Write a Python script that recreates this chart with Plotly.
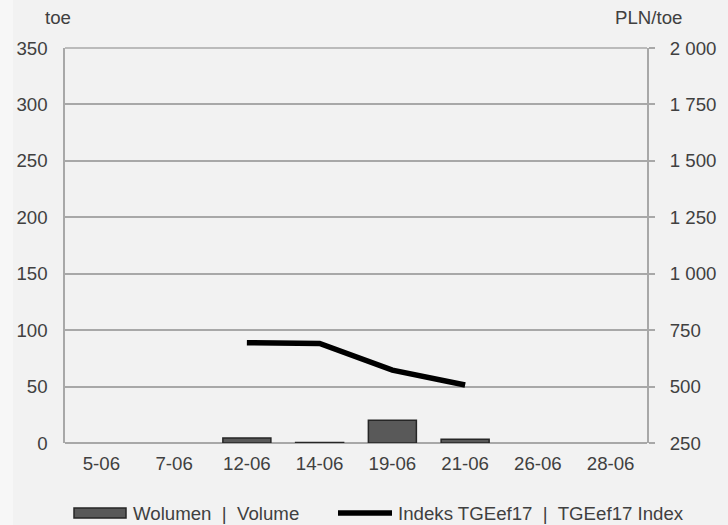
import plotly.graph_objects as go

categories = ["5-06", "7-06", "12-06", "14-06", "19-06", "21-06", "26-06", "28-06"]
volume = [None, None, 4.5, 0.4, 20.2, 3.4, None, None]
index_vals = [None, None, 694, 691, 573, 507, None, None]
left_ticks = [0, 50, 100, 150, 200, 250, 300, 350]
right_ticks = [250, 500, 750, 1000, 1250, 1500, 1750, 2000]
right_labels = ["250", "500", "750", "1 000", "1 250", "1 500", "1 750", "2 000"]
bar_name = "Wolumen  |  Volume"
line_name = "Indeks TGEef17  |  TGEef17 Index"

font_color = "#404040"
grid_color = "#a8a8a8"
bg = "#f2f2f2"
FS = 18.67

W, H = 728, 525
L, R, T, B = 65, 81, 48, 82
pw, ph = W - L - R, H - T - B


def px(x):
    return (x - L) / pw


def py(y):
    return (H - B - y) / ph


fig = go.Figure()
fig.add_trace(go.Bar(
    x=categories, y=volume, name=bar_name,
    marker=dict(color="#595959", line=dict(color="#262626", width=1.5)),
    width=0.66, yaxis="y", showlegend=False,
))
fig.add_trace(go.Scatter(
    x=categories, y=index_vals, name=line_name,
    mode="lines", line=dict(color="#000000", width=5.5),
    yaxis="y2", connectgaps=False, showlegend=False,
))

fig.update_layout(
    width=W, height=H,
    paper_bgcolor=bg, plot_bgcolor=bg,
    margin=dict(l=L, r=R, t=T, b=B),
    font=dict(family="Liberation Sans, Arial, sans-serif", size=FS, color=font_color),
    showlegend=False,
    xaxis=dict(
        type="category", showgrid=False, showline=False, ticks="",
        tickfont=dict(size=FS, color=font_color), ticklabelstandoff=7,
    ),
    yaxis=dict(
        range=[0, 350], tickvals=left_ticks, showgrid=True, gridcolor=grid_color, gridwidth=1.5,
        showline=True, linecolor=grid_color, linewidth=1.5, ticks="",
        zeroline=True, zerolinecolor=grid_color, zerolinewidth=1.5,
        ticklabelstandoff=12, tickfont=dict(size=FS, color=font_color),
    ),
    yaxis2=dict(
        range=[250, 2000], tickvals=right_ticks, ticktext=right_labels,
        overlaying="y", side="right", showgrid=False, zeroline=False,
        showline=True, linecolor=grid_color, linewidth=2,
        ticks="outside", ticklen=6, tickcolor=grid_color, tickwidth=1.5,
        ticklabelstandoff=11, tickfont=dict(size=FS, color=font_color),
    ),
)

annotations = [
    dict(text="toe", xref="paper", yref="paper", x=px(57.5), y=py(17),
         showarrow=False, xanchor="center", yanchor="middle",
         font=dict(size=FS, color=font_color)),
    dict(text="PLN/toe", xref="paper", yref="paper", x=px(648), y=py(17),
         showarrow=False, xanchor="center", yanchor="middle",
         font=dict(size=FS, color=font_color)),
    dict(text=bar_name, xref="paper", yref="paper", x=px(131), y=py(513),
         showarrow=False, xanchor="left", yanchor="middle",
         font=dict(size=FS, color=font_color)),
    dict(text=line_name, xref="paper", yref="paper", x=px(396), y=py(513),
         showarrow=False, xanchor="left", yanchor="middle",
         font=dict(size=FS, color=font_color)),
]
fig.update_layout(annotations=annotations)

# top border line of the plot frame
fig.add_shape(type="line", xref="paper", yref="paper", x0=0, x1=1, y0=1, y1=1,
              line=dict(color=grid_color, width=1.5))
# light strip at the far left of the image
fig.add_shape(type="rect", xref="paper", yref="paper", x0=px(0), x1=px(13), y0=py(H), y1=py(0),
              fillcolor="#f7f7f7", line=dict(width=0), layer="below")
# legend swatches
fig.add_shape(type="rect", xref="paper", yref="paper", x0=px(74), x1=px(126), y0=py(518), y1=py(508),
              fillcolor="#595959", line=dict(color="#262626", width=1.5))
fig.add_shape(type="line", xref="paper", yref="paper", x0=px(338), x1=px(392), y0=py(513), y1=py(513),
              line=dict(color="#000000", width=5.5))

fig.write_html("out.html", config={"displayModeBar": False},
               post_script="document.body.style.margin='0';")
